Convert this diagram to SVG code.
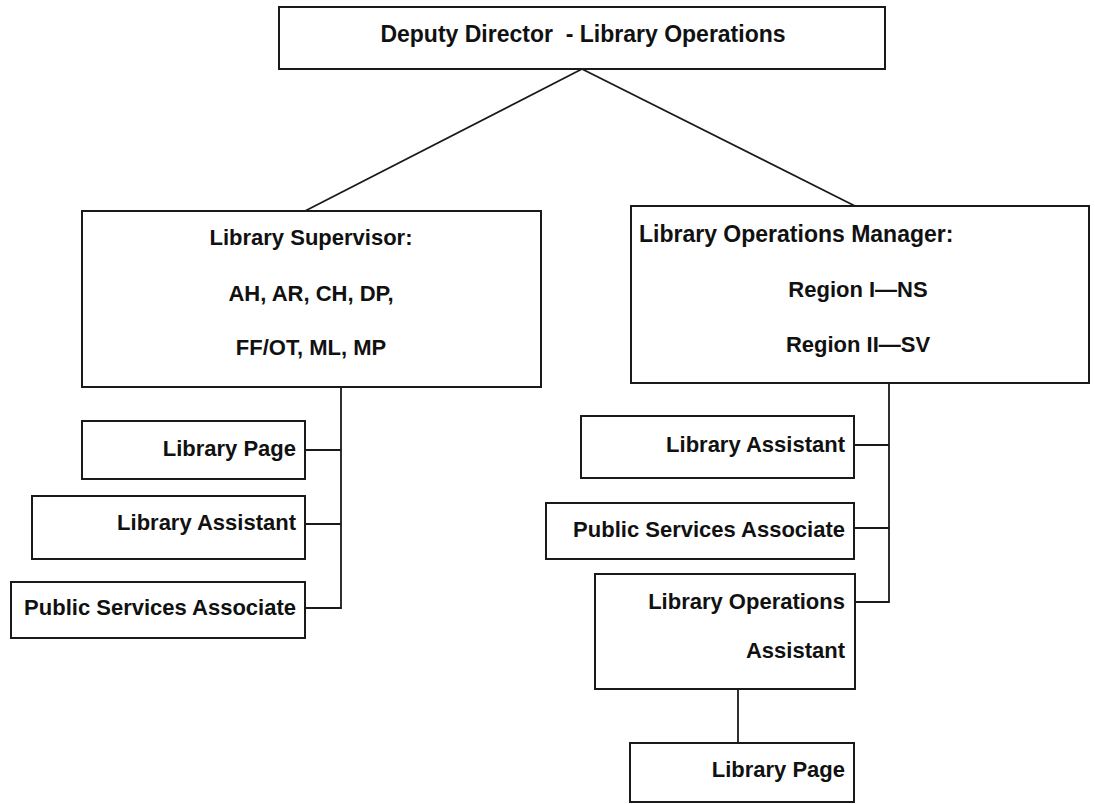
<svg xmlns="http://www.w3.org/2000/svg" width="1095" height="804" viewBox="0 0 1095 804">
<style>
.box{fill:#fff;stroke:#1a1a1a;stroke-width:2}
.t{font-family:"Liberation Sans",Arial,sans-serif;font-weight:bold;font-size:22px;fill:#111}
.m{text-anchor:middle}
.r{text-anchor:end}
.c{fill:none;stroke:#1a1a1a;stroke-width:1.8}
</style>
<rect width="1095" height="804" fill="#fff"/>
<g id="connectors">
<line class="c" x1="582" y1="69" x2="305" y2="211"/>
<line class="c" x1="582" y1="69" x2="855" y2="206"/>
<polyline class="c" points="341,387 341,608 305,608"/>
<line class="c" x1="305" y1="450" x2="341" y2="450"/>
<line class="c" x1="305" y1="524" x2="341" y2="524"/>
<polyline class="c" points="889,383 889,602 854,602"/>
<line class="c" x1="854" y1="445" x2="889" y2="445"/>
<line class="c" x1="854" y1="528" x2="889" y2="528"/>
<line class="c" x1="738" y1="689" x2="738" y2="743"/>
</g>
<g id="deputy-director">
<rect class="box" x="279" y="7" width="606" height="62"/>
<text class="t m" x="583" y="42" xml:space="preserve" style="font-size:23px">Deputy Director  - Library Operations</text>
</g>
<g id="library-supervisor">
<rect class="box" x="82" y="211" width="459" height="176"/>
<text class="t m" x="311" y="245">Library Supervisor:</text>
<text class="t m" x="311" y="301">AH, AR, CH, DP,</text>
<text class="t m" x="311" y="355">FF/OT, ML, MP</text>
</g>
<g id="library-operations-manager">
<rect class="box" x="631" y="206" width="458" height="177"/>
<text class="t" x="639" y="242" style="font-size:23px">Library Operations Manager:</text>
<text class="t m" x="858" y="297">Region I—NS</text>
<text class="t m" x="858" y="352">Region II—SV</text>
</g>
<g id="left-library-page">
<rect class="box" x="82" y="421" width="223" height="58"/>
<text class="t r" x="296" y="456">Library Page</text>
</g>
<g id="left-library-assistant">
<rect class="box" x="32" y="496" width="273" height="63"/>
<text class="t r" x="296" y="530">Library Assistant</text>
</g>
<g id="left-public-services-associate">
<rect class="box" x="11" y="582" width="294" height="56"/>
<text class="t r" x="296" y="615">Public Services Associate</text>
</g>
<g id="right-library-assistant">
<rect class="box" x="581" y="416" width="273" height="62"/>
<text class="t r" x="845" y="452">Library Assistant</text>
</g>
<g id="right-public-services-associate">
<rect class="box" x="546" y="503" width="308" height="56"/>
<text class="t r" x="845" y="537">Public Services Associate</text>
</g>
<g id="library-operations-assistant">
<rect class="box" x="595" y="574" width="260" height="115"/>
<text class="t r" x="845" y="609">Library Operations</text>
<text class="t r" x="845" y="658">Assistant</text>
</g>
<g id="right-library-page">
<rect class="box" x="630" y="743" width="224" height="59"/>
<text class="t r" x="845" y="777">Library Page</text>
</g>
</svg>
